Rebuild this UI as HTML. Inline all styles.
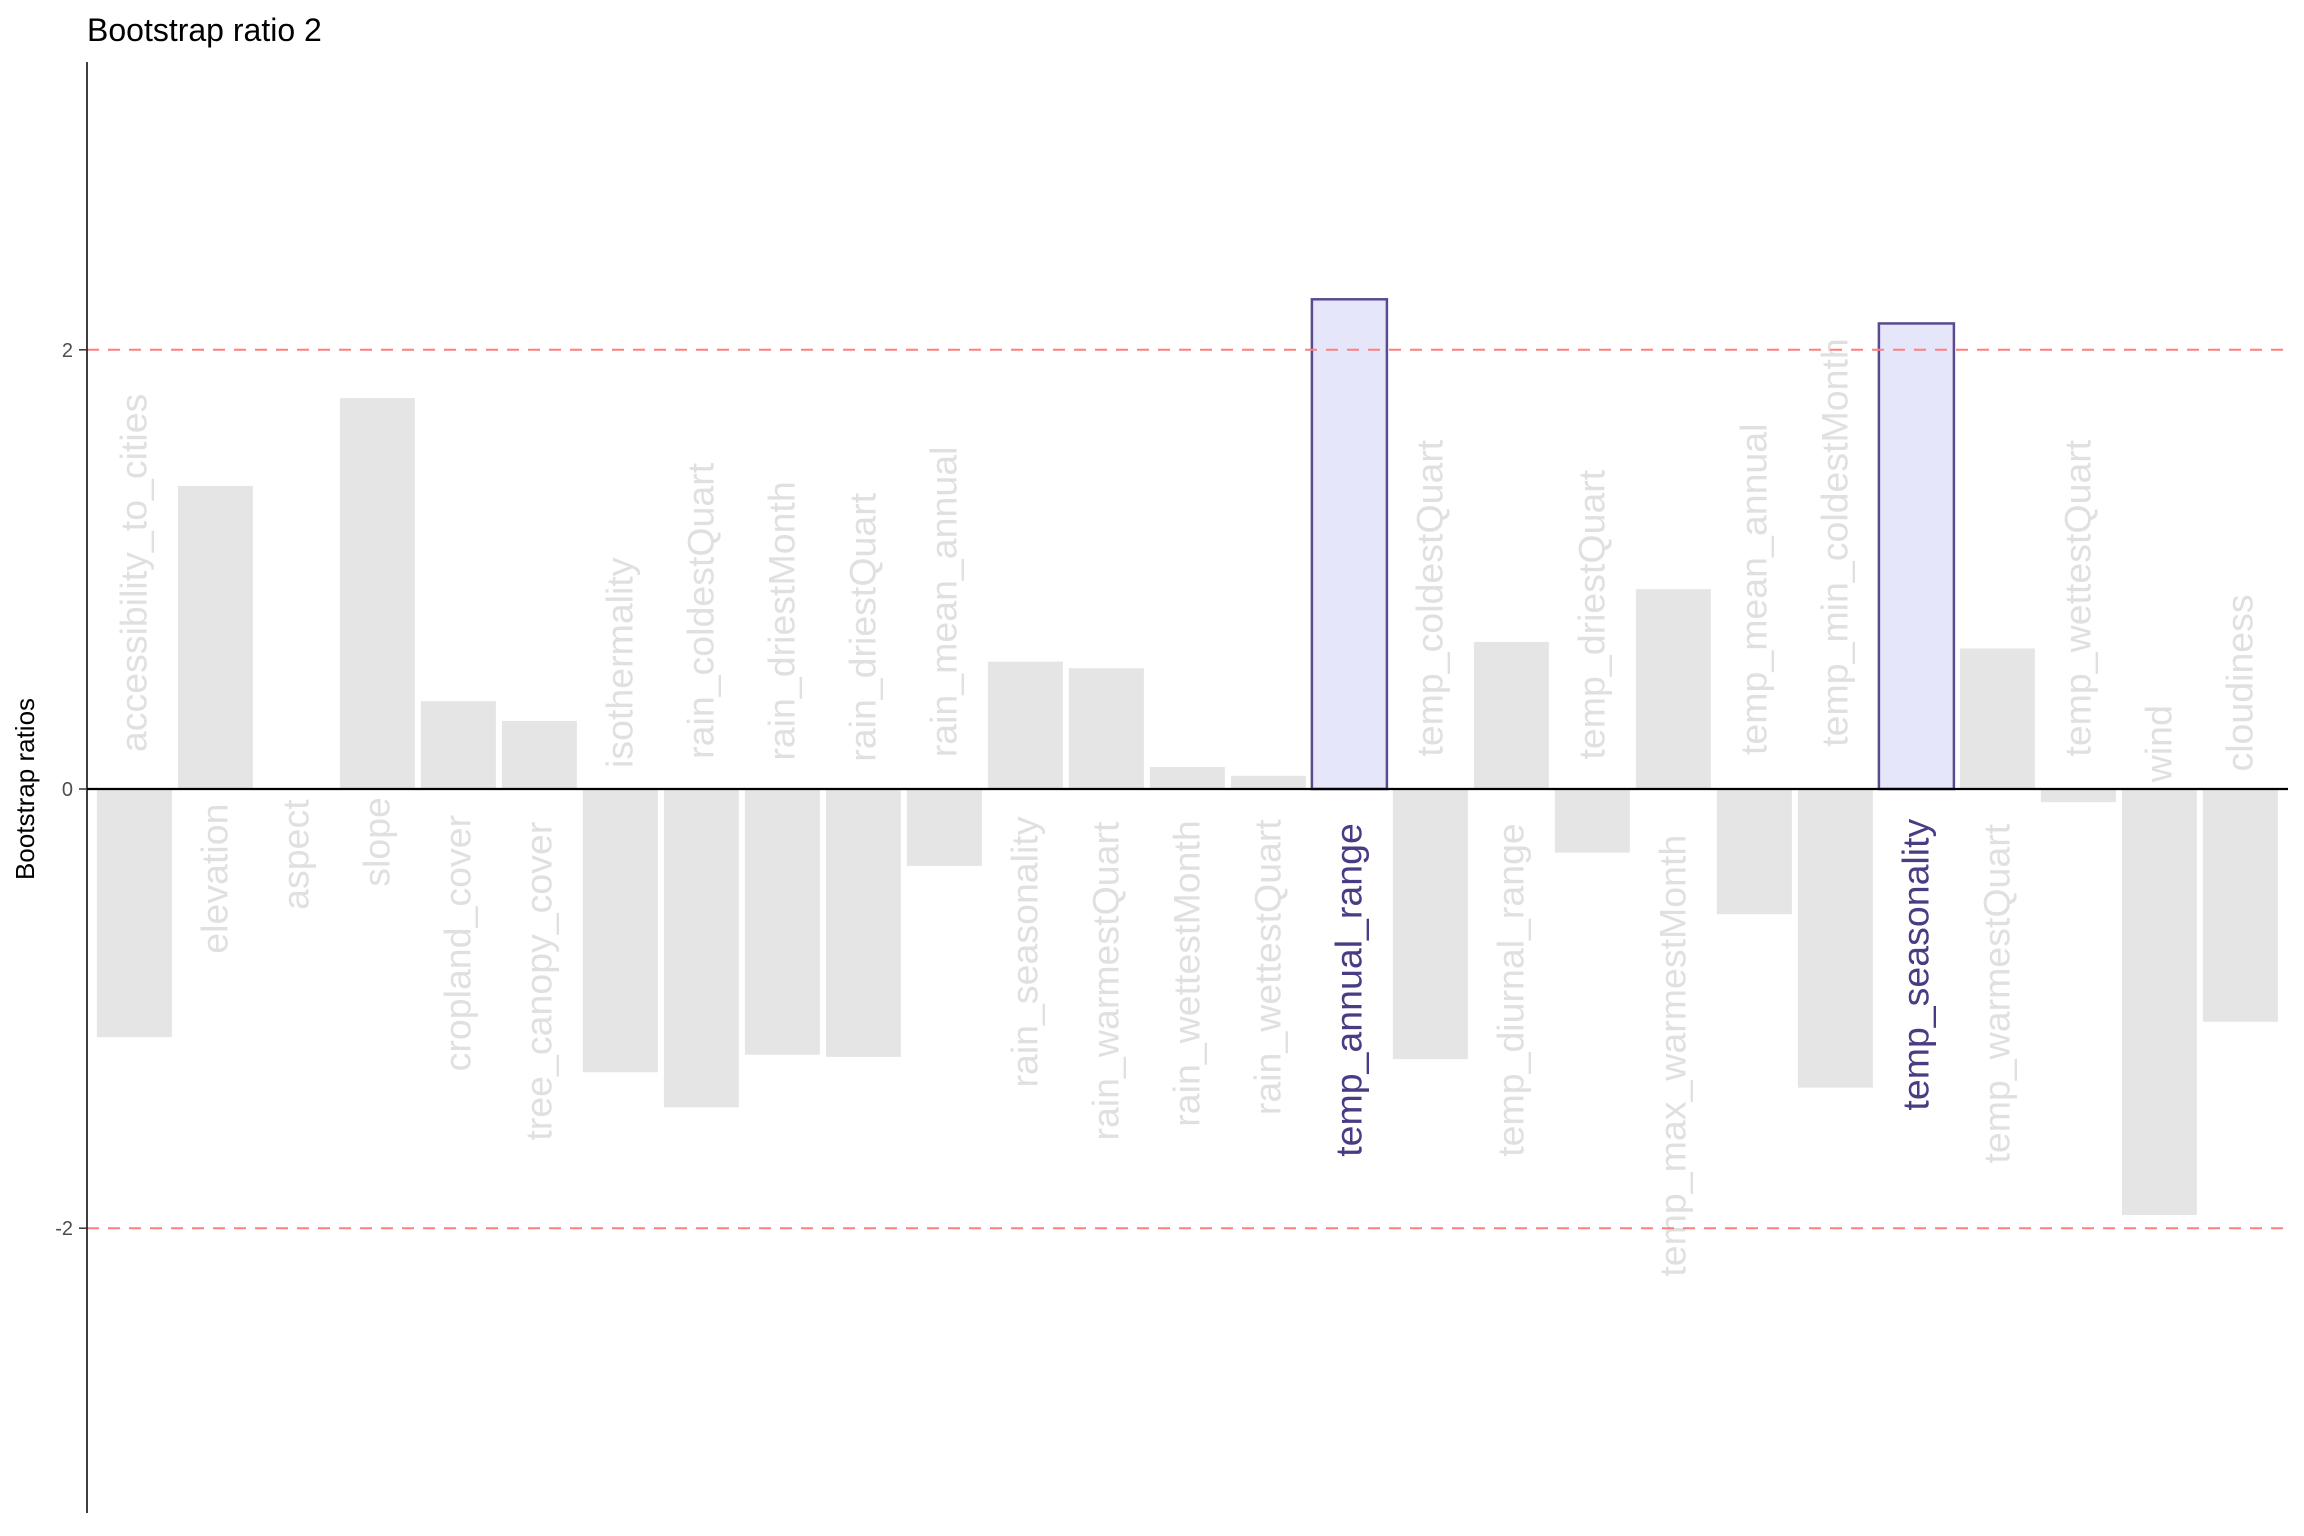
<!DOCTYPE html>
<html><head><meta charset="utf-8"><style>
html,body{margin:0;padding:0;background:#fff;}
svg{display:block;font-family:"Liberation Sans",Arial,sans-serif;}
</style></head><body>
<svg id="chart" width="2304" height="1536" viewBox="0 0 2304 1536">
<text x="87" y="41" font-size="32" fill="#000">Bootstrap ratio 2</text>
<text transform="translate(34,789) rotate(-90)" text-anchor="middle" font-size="26" fill="#000">Bootstrap ratios</text>
<g id="bars"></g>
<g id="labels"></g>
<g id="axis"></g>
</svg>
<script>
const categories = ["accessibility_to_cities","elevation","aspect","slope","cropland_cover","tree_canopy_cover","isothermality","rain_coldestQuart","rain_driestMonth","rain_driestQuart","rain_mean_annual","rain_seasonality","rain_warmestQuart","rain_wettestMonth","rain_wettestQuart","temp_annual_range","temp_coldestQuart","temp_diurnal_range","temp_driestQuart","temp_max_warmestMonth","temp_mean_annual","temp_min_coldestMonth","temp_seasonality","temp_warmestQuart","temp_wettestQuart","wind","cloudiness"];
const values = [-1.13,1.38,0.005,1.78,0.40,0.31,-1.29,-1.45,-1.21,-1.22,-0.35,0.58,0.55,0.10,0.06,2.23,-1.23,0.67,-0.29,0.91,-0.57,-1.36,2.12,0.64,-0.06,-1.94,-1.06];
const yTicks = [2,0,-2];
const thresholds = [2,-2];
const threshold = 2;

const NS="http://www.w3.org/2000/svg";
const svg=document.getElementById('chart');
const gB=document.getElementById('bars'),gL=document.getElementById('labels'),gA=document.getElementById('axis');
const y0=789, unit=219.6;
const yScale=v=>y0-v*unit;
const x0=134.4, step=81.0, bw=75;
const xScale=i=>x0+i*step;
function mk(t,a,p){const e=document.createElementNS(NS,t);for(const k in a)e.setAttribute(k,a[k]);p.appendChild(e);return e;}

thresholds.forEach(t=>{
  const l=mk('line',{x1:87,x2:2288,y1:yScale(t),y2:yScale(t),stroke:'#FF7F7F','stroke-width':2,'stroke-dasharray':'12 9'},gA);
  
  
});

categories.forEach((c,i)=>{
  const v=values[i];
  const hi=Math.abs(v)>=threshold;
  const top=Math.min(yScale(v),y0), h=Math.abs(yScale(v)-y0);
  const r=mk('rect',{x:xScale(i)-bw/2,y:top,width:bw,height:h,fill:hi?'#E6E6FA':'#E5E5E5',stroke:hi?'#5A4A8E':'none','stroke-width':hi?2.5:0},gB);
  
  
  const t=mk('text',{'font-size':37.5,fill:hi?'#4B3B84':'#E0E0E0'},gL);
  t.textContent=c;
  
  
  const len=t.getComputedTextLength();
  const off=0.107*len-1.5;
  const cx=xScale(i)+12;
  if(v>=0){
    t.setAttribute('text-anchor','end');
    t.setAttribute('transform','translate('+cx+','+(y0+off)+') rotate(-90)');
  } else {
    t.setAttribute('text-anchor','start');
    t.setAttribute('transform','translate('+cx+','+(y0-off)+') rotate(-90)');
  }
});

const ax=mk('line',{x1:87,x2:87,y1:62,y2:1513,stroke:'#000','stroke-width':1.5},gA);


const zl=mk('line',{x1:87,x2:2288,y1:y0,y2:y0,stroke:'#000','stroke-width':2.2},gA);


yTicks.forEach(t=>{
  const tk=mk('line',{x1:79,x2:87,y1:yScale(t),y2:yScale(t),stroke:'#333','stroke-width':1.5},gA);
  
  
  const tl=mk('text',{x:73,y:yScale(t)+7,'text-anchor':'end','font-size':20,fill:'#4D4D4D'},gA);
  tl.textContent=t;
  
  
});
</script>
</body></html>
